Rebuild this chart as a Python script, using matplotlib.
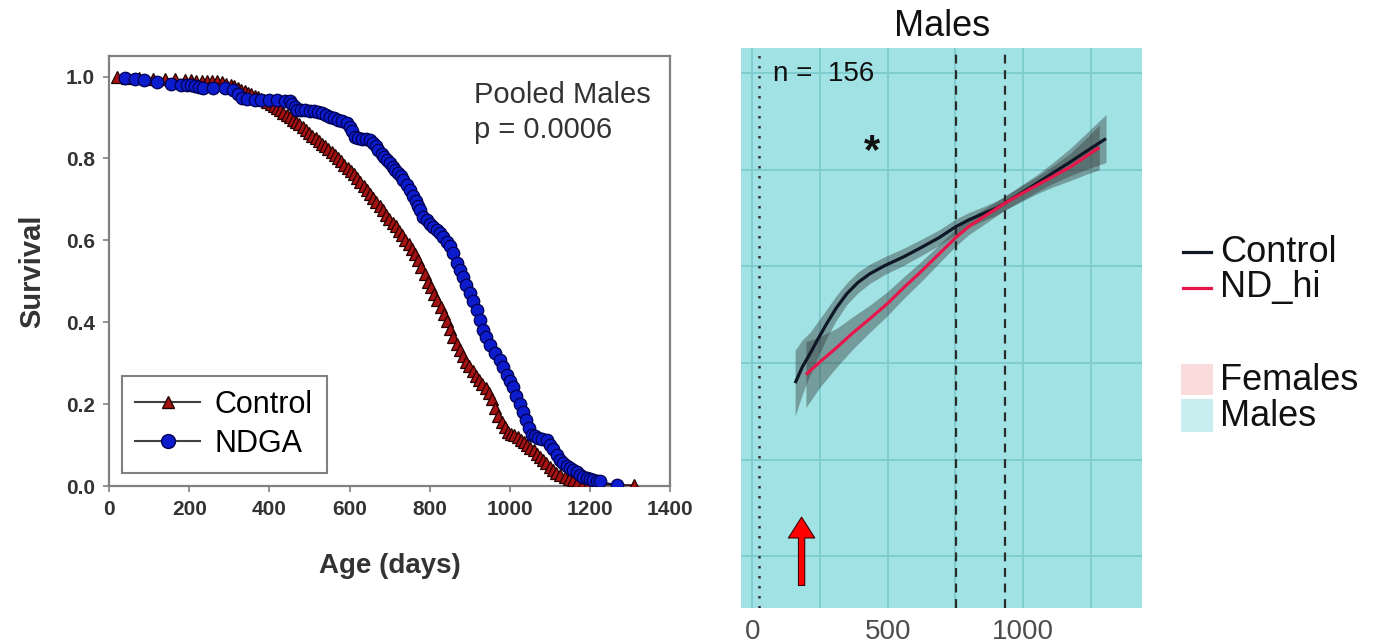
import numpy as np
import matplotlib
matplotlib.use("Agg")
import matplotlib.pyplot as plt
from matplotlib.lines import Line2D
from matplotlib.patches import Rectangle

plt.rcParams['font.family'] = ['Liberation Sans', 'DejaVu Sans']

# ---- left panel: Kaplan-Meier survival, pooled males ----
ctrl_days = [19, 45, 75, 110, 140, 165, 190, 205, 218, 232, 245, 258, 270, 282, 293, 303,
             312, 321, 330, 338, 347, 355, 363, 371, 379, 387, 395, 403, 411, 419, 427,
             435, 443, 451, 459, 467, 475, 483, 491, 499, 507, 515, 523, 531, 539, 547,
             555, 563, 571, 579, 587, 595, 603, 611, 619, 627, 635, 643, 651, 659, 667,
             675, 683, 691, 699, 707, 715, 723, 731, 739, 747, 755, 763, 771, 779, 787,
             795, 803, 811, 819, 827, 835, 843, 851, 859, 867, 875, 883, 891, 899, 907,
             915, 923, 931, 939, 947, 955, 963, 971, 979, 987, 995, 1003, 1011, 1019,
             1027, 1035, 1043, 1051, 1059, 1067, 1075, 1083, 1091, 1099, 1107, 1115,
             1125, 1136, 1147, 1158, 1170, 1182, 1195, 1210, 1308]
ctrl_surv = [1.0, 0.997, 0.996, 0.995, 0.994, 0.993, 0.992, 0.991, 0.99, 0.99, 0.99, 0.989,
             0.988, 0.986, 0.983, 0.98, 0.976, 0.972, 0.968, 0.964, 0.96, 0.957, 0.953,
             0.949, 0.946, 0.943, 0.938, 0.933, 0.928, 0.923, 0.918, 0.912, 0.907, 0.901,
             0.895, 0.889, 0.883, 0.876, 0.869, 0.862, 0.856, 0.85, 0.843, 0.836, 0.83,
             0.823, 0.816, 0.808, 0.801, 0.793, 0.785, 0.777, 0.769, 0.761, 0.752, 0.742,
             0.733, 0.723, 0.713, 0.704, 0.694, 0.684, 0.673, 0.663, 0.652, 0.643, 0.634,
             0.624, 0.612, 0.601, 0.59, 0.578, 0.566, 0.552, 0.535, 0.517, 0.499, 0.485,
             0.47, 0.455, 0.438, 0.42, 0.402, 0.383, 0.365, 0.348, 0.332, 0.318, 0.304,
             0.292, 0.281, 0.269, 0.259, 0.249, 0.24, 0.228, 0.212, 0.19, 0.171, 0.156,
             0.143, 0.133, 0.127, 0.124, 0.119, 0.113, 0.107, 0.1, 0.094, 0.087, 0.078,
             0.07, 0.063, 0.055, 0.047, 0.039, 0.032, 0.026, 0.021, 0.017, 0.014, 0.011,
             0.008, 0.006, 0.004, 0.002]

ndga_days = [40, 65, 88, 120, 154, 180, 194, 205, 214, 225, 235, 260, 290, 310, 322, 331,
             345, 365, 380, 400, 420, 440, 451, 457, 463, 470, 480, 490, 500, 510, 520,
             530, 540, 551, 561, 572, 582, 593, 600, 606, 613, 622, 630, 640, 651, 658,
             665, 672, 680, 687, 693, 700, 707, 714, 720, 727, 734, 742, 751, 758, 765,
             770, 776, 784, 792, 800, 808, 817, 825, 834, 842, 850, 859, 867, 875, 883,
             891, 900, 908, 917, 925, 933, 941, 950, 962, 975, 983, 992, 1000, 1008,
             1016, 1025, 1032, 1040, 1047, 1054, 1062, 1070, 1081, 1092, 1100, 1108,
             1116, 1125, 1133, 1141, 1150, 1158, 1166, 1175, 1183, 1191, 1200, 1208,
             1216, 1225, 1266]
ndga_surv = [0.996, 0.993, 0.991, 0.987, 0.983, 0.98, 0.979, 0.979, 0.978, 0.975, 0.971,
             0.971, 0.971, 0.968, 0.958, 0.947, 0.945, 0.944, 0.943, 0.943, 0.942, 0.941,
             0.94, 0.932, 0.925, 0.918, 0.918, 0.918, 0.917, 0.916, 0.913, 0.91, 0.906,
             0.902, 0.899, 0.895, 0.891, 0.886, 0.878, 0.868, 0.853, 0.85, 0.848, 0.847,
             0.845, 0.838, 0.83, 0.821, 0.812, 0.804, 0.796, 0.788, 0.78, 0.772, 0.764,
             0.756, 0.747, 0.736, 0.723, 0.709, 0.695, 0.685, 0.675, 0.658, 0.649, 0.64,
             0.633, 0.625, 0.617, 0.609, 0.597, 0.585, 0.568, 0.544, 0.527, 0.51, 0.491,
             0.471, 0.451, 0.43, 0.405, 0.381, 0.363, 0.345, 0.325, 0.308, 0.29, 0.272,
             0.257, 0.242, 0.221, 0.2, 0.18, 0.16, 0.142, 0.125, 0.121, 0.118, 0.115,
             0.112, 0.101, 0.09, 0.076, 0.063, 0.056, 0.05, 0.044, 0.039, 0.033, 0.028,
             0.023, 0.019, 0.016, 0.014, 0.012, 0.011, 0.002]

# ---- right panel: smoothed fits, males ----
ctrl_fit_x = [158, 185, 213, 245, 275, 310, 349, 390, 435, 490, 558, 620, 690, 751, 800,
              853, 900, 933, 990, 1050, 1110, 1173, 1240, 1306]
ctrl_fit_y = [0.448, 0.49, 0.524, 0.565, 0.602, 0.642, 0.679, 0.708, 0.731, 0.752, 0.774,
              0.797, 0.824, 0.852, 0.870, 0.886, 0.900, 0.913, 0.938, 0.964, 0.991, 1.019,
              1.050, 1.080]
ctrl_fit_se = [0.085, 0.07, 0.055, 0.045, 0.037, 0.032, 0.028, 0.027, 0.025, 0.023, 0.022,
               0.021, 0.02, 0.02, 0.019, 0.018, 0.018, 0.018, 0.02, 0.022, 0.027, 0.035,
               0.048, 0.062]

ndhi_fit_x = [198, 250, 312, 370, 435, 500, 558, 620, 681, 751, 800, 853, 933, 990, 1050,
              1110, 1173, 1230, 1281]
ndhi_fit_y = [0.470, 0.503, 0.540, 0.577, 0.615, 0.654, 0.694, 0.734, 0.776, 0.824, 0.853,
              0.877, 0.913, 0.936, 0.959, 0.982, 1.006, 1.033, 1.057]
ndhi_fit_se = [0.085, 0.065, 0.05, 0.042, 0.035, 0.031, 0.028, 0.026, 0.024, 0.022, 0.021,
               0.02, 0.018, 0.02, 0.022, 0.027, 0.035, 0.046, 0.058]

vlines_dashed = [751, 932]
vline_dotted = 26
arrow_x = 182

fig = plt.figure(figsize=(13.91, 6.44), dpi=100)

# ================= left =================
ax1 = fig.add_axes([109/1391, 1-486/644, 561.4/1391, 430.3/644])
ax1.plot(ctrl_days, ctrl_surv, color='#300606', lw=1.2, marker='^', ms=8,
         mfc='#a51212', mec='#220000', mew=0.9, zorder=3)
ax1.plot(ndga_days, ndga_surv, color='#10104a', lw=1.2, marker='o', ms=9,
         mfc='#0c1ccc', mec='#000050', mew=0.9, zorder=4)
ax1.set_xlim(0, 1400)
ax1.set_ylim(0, 1.051)
ax1.set_xticks(np.arange(0, 1401, 200))
ax1.set_yticks(np.arange(0, 1.01, 0.2))
ax1.set_yticklabels(["%.1f" % v for v in np.arange(0, 1.01, 0.2)])
for s in ax1.spines.values():
    s.set_color('#808080')
    s.set_linewidth(1.6)
ax1.tick_params(direction='out', length=4, width=1.2, color='#808080',
                labelsize=15, labelcolor='#333333', pad=6)
for lab in ax1.get_xticklabels() + ax1.get_yticklabels():
    lab.set_fontweight('bold')

ax1.text(-0.137, 0.5, 'Survival', rotation=90, transform=ax1.transAxes,
         ha='center', va='center', fontsize=21, fontweight='bold', color='#333333')
ax1.text(0.5, -0.186, 'Age (days)', transform=ax1.transAxes,
         ha='center', va='center', fontsize=20, fontweight='bold', color='#333333')
ax1.text(910, 0.955, 'Pooled Males', fontsize=21, va='center', color='#333333')
ax1.text(910, 0.869, 'p = 0.0006', fontsize=21, va='center', color='#333333')

h1 = [Line2D([], [], color='#404040', lw=1.5, marker='^', ms=9, mfc='#a51212', mec='#220000'),
      Line2D([], [], color='#404040', lw=1.5, marker='o', ms=10, mfc='#0c1ccc', mec='#000050')]
leg = ax1.legend(h1, ['Control', 'NDGA'], loc='lower left',
                 bbox_to_anchor=(0.0226, 0.031), borderaxespad=0, fontsize=22,
                 handlelength=2.1, handletextpad=0.5, labelspacing=0.3,
                 borderpad=0.45, fancybox=False, framealpha=1)
leg.get_frame().set_edgecolor('#808080')
leg.get_frame().set_linewidth(1.5)

# ================= right =================
ax2 = fig.add_axes([741/1391, 1-608.3/644, 401.3/1391, 560.3/644])
ax2.set_facecolor('#a1e2e4')
ax2.set_xlim(-41.7, 1440)
ax2.set_ylim(-0.134, 1.314)
ax2.set_xticks([0, 500, 1000])
ax2.set_xticks([250, 750, 1250], minor=True)
ax2.set_yticks([0, 0.5, 1.0])
ax2.set_yticks([0.25, 0.75, 1.25], minor=True)
ax2.set_yticklabels([])
ax2.grid(which='both', color='#7ccbcd', lw=1.3)
ax2.set_axisbelow(True)
ax2.tick_params(which='both', length=0, labelsize=20, labelcolor='#4d4d4d', pad=8)
for s in ax2.spines.values():
    s.set_visible(False)

ax2.axvline(vline_dotted, color='#333333', lw=1.8, ls=(0, (1, 3)))
for v in vlines_dashed:
    ax2.axvline(v, color='#2a2a2a', lw=1.6, ls=(0, (4, 3)))

cx = np.array(ctrl_fit_x); cy = np.array(ctrl_fit_y); cs = np.array(ctrl_fit_se)
nx = np.array(ndhi_fit_x); ny = np.array(ndhi_fit_y); ns = np.array(ndhi_fit_se)
ax2.fill_between(cx, cy - cs, cy + cs, color='#333333', alpha=0.4, lw=0)
ax2.fill_between(nx, ny - ns, ny + ns, color='#333333', alpha=0.4, lw=0)
ax2.plot(cx, cy, color='#0f1626', lw=2.3, solid_capstyle='butt')
ax2.plot(nx, ny, color='#e8174b', lw=2.3, solid_capstyle='butt')

ax2.text(76, 1.246, 'n =  156', fontsize=20, va='center', ha='left', color='#111111')
ax2.text(441, 1.045, '*', fontsize=30, fontweight='bold', va='center', ha='center', color='#111111')
ax2.annotate('', xy=(arrow_x, 0.1016), xytext=(arrow_x, -0.075),
             arrowprops=dict(width=4.5, headwidth=19, headlength=15,
                             facecolor='#ff0000', edgecolor='#3a0000', lw=0.8))
ax2.text(0.5, 1.039, 'Males', transform=ax2.transAxes, fontsize=26,
         ha='center', va='center', color='#111111')

# legend on the right, drawn in figure coords
def fx(px):
    return px / 1391

def fy(py):
    return 1 - py / 644

fig.add_artist(Line2D([fx(1183), fx(1211)], [fy(252), fy(252)], color='#0f1626', lw=2.3))
fig.add_artist(Line2D([fx(1183), fx(1211)], [fy(288), fy(288)], color='#e8174b', lw=2.3))
fig.text(fx(1220), fy(252), 'Control', fontsize=26, va='center', color='#111111')
fig.text(fx(1220), fy(288), 'ND_hi', fontsize=26, va='center', color='#111111')
fig.add_artist(Rectangle((fx(1181), fy(395)), fx(32), 31/644, facecolor='#fbdcdc',
                         edgecolor='none', transform=fig.transFigure))
fig.add_artist(Rectangle((fx(1181), fy(432)), fx(32), 33/644, facecolor='#c8eff0',
                         edgecolor='none', transform=fig.transFigure))
fig.text(fx(1220), fy(381), 'Females', fontsize=26, va='center', color='#111111')
fig.text(fx(1220), fy(416), 'Males', fontsize=26, va='center', color='#111111')

fig.savefig('out.png', dpi=100)
